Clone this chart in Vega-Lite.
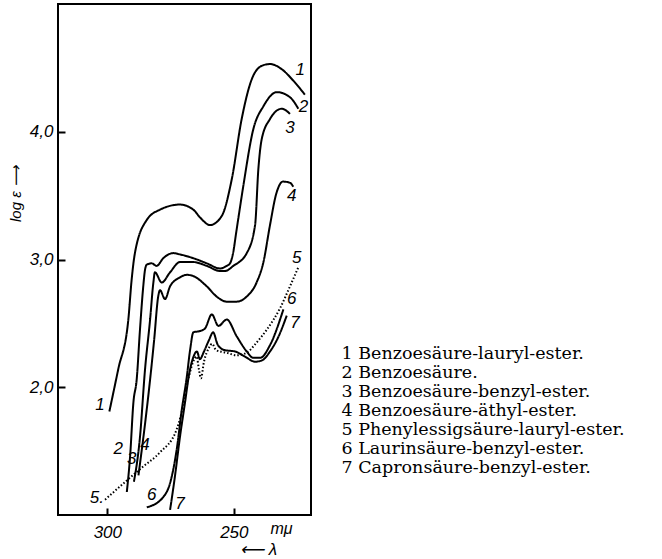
{
  "$schema": "https://vega.github.io/schema/vega-lite/v6.json",
  "width": 253,
  "height": 511,
  "autosize": {"type": "none"},
  "padding": {"left": 58, "top": 4, "right": 351, "bottom": 44},
  "background": "white",
  "title": {
    "text": "⟵ λ",
    "orient": "bottom",
    "anchor": "end",
    "frame": "group",
    "dx": -34,
    "offset": 2,
    "font": "Liberation Sans",
    "fontStyle": "italic",
    "fontWeight": "normal",
    "fontSize": 17,
    "color": "black",
    "baseline": "top"
  },
  "config": {
    "view": {"stroke": "black", "strokeWidth": 2},
    "axis": {
      "domain": false,
      "grid": false,
      "labelFont": "Liberation Sans",
      "labelFontStyle": "italic",
      "labelFontSize": 17,
      "labelColor": "black",
      "titleFont": "Liberation Sans",
      "titleFontStyle": "italic",
      "titleFontWeight": "normal",
      "titleColor": "black"
    }
  },
  "datasets": {
    "names": [
      {"c": 1, "name": "1 Benzoesäure-lauryl-ester."},
      {"c": 2, "name": "2 Benzoesäure."},
      {"c": 3, "name": "3 Benzoesäure-benzyl-ester."},
      {"c": 4, "name": "4 Benzoesäure-äthyl-ester."},
      {"c": 5, "name": "5 Phenylessigsäure-lauryl-ester."},
      {"c": 6, "name": "6 Laurinsäure-benzyl-ester."},
      {"c": 7, "name": "7 Capronsäure-benzyl-ester."}
    ],
    "curves": [
      {"c":1,"wl":299.2,"le":1.81},{"c":1,"wl":295.7,"le":2.14},{"c":1,"wl":291.7,"le":2.53},{"c":1,"wl":290.4,"le":2.84},{"c":1,"wl":289.1,"le":3.05},{"c":1,"wl":284.4,"le":3.31},{"c":1,"wl":279.2,"le":3.39},{"c":1,"wl":271.3,"le":3.43},{"c":1,"wl":266.0,"le":3.39},{"c":1,"wl":263.4,"le":3.33},{"c":1,"wl":259.4,"le":3.27},{"c":1,"wl":254.8,"le":3.34},{"c":1,"wl":250.8,"le":3.63},{"c":1,"wl":246.9,"le":4.10},{"c":1,"wl":242.3,"le":4.44},{"c":1,"wl":238.5,"le":4.52},{"c":1,"wl":235.7,"le":4.53},{"c":1,"wl":231.1,"le":4.49},{"c":1,"wl":226.5,"le":4.40},{"c":1,"wl":221.9,"le":4.29},
      {"c":2,"wl":292.3,"le":1.18},{"c":2,"wl":291.0,"le":1.46},{"c":2,"wl":289.7,"le":1.88},{"c":2,"wl":288.4,"le":2.06},{"c":2,"wl":287.1,"le":2.45},{"c":2,"wl":285.8,"le":2.79},{"c":2,"wl":285.1,"le":2.92},{"c":2,"wl":284.4,"le":2.96},{"c":2,"wl":282.5,"le":2.97},{"c":2,"wl":280.5,"le":2.95},{"c":2,"wl":277.9,"le":3.01},{"c":2,"wl":273.9,"le":3.05},{"c":2,"wl":271.3,"le":3.04},{"c":2,"wl":266.0,"le":3.01},{"c":2,"wl":260.7,"le":2.97},{"c":2,"wl":255.5,"le":2.93},{"c":2,"wl":252.8,"le":2.95},{"c":2,"wl":251.5,"le":2.97},{"c":2,"wl":250.3,"le":3.05},{"c":2,"wl":249.0,"le":3.22},{"c":2,"wl":246.3,"le":3.57},{"c":2,"wl":242.3,"le":4.02},{"c":2,"wl":238.3,"le":4.20},{"c":2,"wl":233.0,"le":4.31},{"c":2,"wl":227.8,"le":4.27},{"c":2,"wl":224.5,"le":4.18},
      {"c":3,"wl":289.5,"le":1.26},{"c":3,"wl":287.1,"le":1.61},{"c":3,"wl":285.1,"le":2.14},{"c":3,"wl":283.1,"le":2.53},{"c":3,"wl":281.8,"le":2.82},{"c":3,"wl":281.2,"le":2.90},{"c":3,"wl":278.5,"le":2.82},{"c":3,"wl":275.2,"le":2.90},{"c":3,"wl":271.3,"le":2.98},{"c":3,"wl":266.0,"le":2.98},{"c":3,"wl":260.7,"le":2.95},{"c":3,"wl":255.5,"le":2.91},{"c":3,"wl":253.5,"le":2.91},{"c":3,"wl":250.2,"le":2.95},{"c":3,"wl":244.9,"le":3.05},{"c":3,"wl":241.6,"le":3.27},{"c":3,"wl":240.3,"le":3.71},{"c":3,"wl":239.0,"le":3.94},{"c":3,"wl":235.7,"le":4.10},{"c":3,"wl":231.1,"le":4.18},{"c":3,"wl":227.8,"le":4.14},
      {"c":4,"wl":287.7,"le":1.31},{"c":4,"wl":284.7,"le":1.78},{"c":4,"wl":283.1,"le":2.06},{"c":4,"wl":281.5,"le":2.37},{"c":4,"wl":279.9,"le":2.71},{"c":4,"wl":279.2,"le":2.76},{"c":4,"wl":277.2,"le":2.69},{"c":4,"wl":275.2,"le":2.79},{"c":4,"wl":271.3,"le":2.86},{"c":4,"wl":268.6,"le":2.88},{"c":4,"wl":266.0,"le":2.87},{"c":4,"wl":260.7,"le":2.79},{"c":4,"wl":256.8,"le":2.71},{"c":4,"wl":252.8,"le":2.67},{"c":4,"wl":248.9,"le":2.67},{"c":4,"wl":244.9,"le":2.71},{"c":4,"wl":241.0,"le":2.82},{"c":4,"wl":238.3,"le":2.98},{"c":4,"wl":235.7,"le":3.27},{"c":4,"wl":233.3,"le":3.51},{"c":4,"wl":230.6,"le":3.61},{"c":4,"wl":227.8,"le":3.60},{"c":4,"wl":226.5,"le":3.57},
      {"c":5,"wl":300.9,"le":1.12},{"c":5,"wl":292.3,"le":1.27},{"c":5,"wl":285.8,"le":1.38},{"c":5,"wl":279.2,"le":1.49},{"c":5,"wl":272.6,"le":1.67},{"c":5,"wl":270.0,"le":1.86},{"c":5,"wl":268.5,"le":2.02},{"c":5,"wl":267.3,"le":2.12},{"c":5,"wl":266.1,"le":2.20},{"c":5,"wl":264.7,"le":2.24},{"c":5,"wl":263.8,"le":2.14},{"c":5,"wl":263.0,"le":2.07},{"c":5,"wl":261.8,"le":2.20},{"c":5,"wl":259.8,"le":2.31},{"c":5,"wl":258.6,"le":2.34},{"c":5,"wl":257.0,"le":2.29},{"c":5,"wl":252.8,"le":2.27},{"c":5,"wl":248.9,"le":2.25},{"c":5,"wl":244.9,"le":2.27},{"c":5,"wl":241.0,"le":2.35},{"c":5,"wl":237.0,"le":2.45},{"c":5,"wl":231.7,"le":2.62},{"c":5,"wl":227.8,"le":2.79},{"c":5,"wl":224.5,"le":2.94},
      {"c":6,"wl":284.4,"le":1.06},{"c":6,"wl":277.9,"le":1.14},{"c":6,"wl":275.2,"le":1.25},{"c":6,"wl":272.6,"le":1.51},{"c":6,"wl":270.6,"le":1.82},{"c":6,"wl":268.6,"le":2.08},{"c":6,"wl":267.3,"le":2.29},{"c":6,"wl":266.0,"le":2.43},{"c":6,"wl":263.4,"le":2.44},{"c":6,"wl":261.4,"le":2.46},{"c":6,"wl":258.7,"le":2.57},{"c":6,"wl":256.1,"le":2.48},{"c":6,"wl":252.8,"le":2.53},{"c":6,"wl":248.9,"le":2.40},{"c":6,"wl":244.9,"le":2.28},{"c":6,"wl":242.3,"le":2.23},{"c":6,"wl":239.6,"le":2.23},{"c":6,"wl":235.7,"le":2.33},{"c":6,"wl":230.4,"le":2.61},
      {"c":7,"wl":275.2,"le":1.04},{"c":7,"wl":273.3,"le":1.30},{"c":7,"wl":271.3,"le":1.61},{"c":7,"wl":269.3,"le":1.88},{"c":7,"wl":267.7,"le":2.10},{"c":7,"wl":266.1,"le":2.23},{"c":7,"wl":264.6,"le":2.28},{"c":7,"wl":263.4,"le":2.22},{"c":7,"wl":261.8,"le":2.28},{"c":7,"wl":259.8,"le":2.37},{"c":7,"wl":258.2,"le":2.43},{"c":7,"wl":256.3,"le":2.33},{"c":7,"wl":253.5,"le":2.29},{"c":7,"wl":249.5,"le":2.28},{"c":7,"wl":245.6,"le":2.24},{"c":7,"wl":241.6,"le":2.20},{"c":7,"wl":238.9,"le":2.21},{"c":7,"wl":235.7,"le":2.28},{"c":7,"wl":232.5,"le":2.39},{"c":7,"wl":229.1,"le":2.56}
    ],
    "labels": [
      {"t":"1","wl":223.8,"le":4.48},{"t":"1","wl":302.9,"le":1.86},
      {"t":"2","wl":222.5,"le":4.19},{"t":"2","wl":295.7,"le":1.52},
      {"t":"3","wl":227.8,"le":4.03},{"t":"3","wl":290.4,"le":1.44},
      {"t":"4","wl":227.1,"le":3.50},{"t":"4","wl":285.1,"le":1.55},
      {"t":"5","wl":225.1,"le":3.01},{"t":"5.","wl":304.1,"le":1.13},
      {"t":"6","wl":227.1,"le":2.69},{"t":"6","wl":282.5,"le":1.16},
      {"t":"7","wl":225.8,"le":2.50},{"t":"7","wl":271.3,"le":1.09}
    ]
  },
  "layer": [
    {
      "data": {"name": "curves"},
      "transform": [
        {"lookup": "c", "from": {"data": {"name": "names"}, "key": "c", "fields": ["name"]}}
      ],
      "mark": {"type": "line", "strokeWidth": 2, "interpolate": "monotone"},
      "encoding": {
        "x": {
          "field": "wl", "type": "quantitative",
          "scale": {"domain": [219.5, 319.5], "reverse": true, "nice": false, "zero": false},
          "axis": {
            "values": [300, 250],
            "ticks": true,
            "tickSize": 7,
            "tickWidth": 2,
            "tickColor": "black",
            "tickOpacity": 1,
            "offset": -7,
            "labelPadding": 9,
            "labelBaseline": "top",
            "title": "mμ",
            "titleFontSize": 16,
            "titleAlign": "right",
            "titleBaseline": "alphabetic",
            "titleAnchor": null,
            "titleX": 234,
            "titleY": 25
          }
        },
        "y": {
          "field": "le", "type": "quantitative",
          "scale": {"domain": [1, 5], "nice": false, "zero": false},
          "axis": {
            "values": [2, 3, 4],
            "ticks": true,
            "tickSize": 7,
            "tickWidth": 2,
            "tickColor": "black",
            "tickOpacity": 1,
            "offset": -7,
            "labelPadding": 5,
            "labelExpr": "replace(format(datum.value, '.1f'), '.', ',')",
            "title": "log ε ⟶",
            "titleFontSize": 15,
            "titleAngle": 270,
            "titleAlign": "center",
            "titleBaseline": "middle",
            "titleX": -50,
            "titleY": 189
          }
        },
        "color": {
          "field": "name", "type": "nominal",
          "scale": {"range": ["black"]},
          "legend": {
            "orient": "none",
            "legendX": 266,
            "legendY": 341,
            "title": null,
            "symbolSize": 0,
            "symbolStrokeWidth": 0,
            "symbolOpacity": 0,
            "labelOffset": 0,
            "labelFont": "DejaVu Serif",
            "labelFontSize": 17.5,
            "labelColor": "black",
            "labelLimit": 400,
            "rowPadding": 0
          }
        },
        "strokeDash": {
          "field": "name", "type": "nominal",
          "scale": {"range": [[1, 0], [1, 0], [1, 0], [1, 0], [1.5, 2], [1, 0], [1, 0]]},
          "legend": null
        }
      }
    },
    {
      "data": {"name": "labels"},
      "mark": {"type": "text", "font": "Liberation Sans", "fontStyle": "italic", "fontSize": 17, "color": "black", "align": "center", "baseline": "middle"},
      "encoding": {
        "x": {"field": "wl", "type": "quantitative"},
        "y": {"field": "le", "type": "quantitative"},
        "text": {"field": "t"}
      }
    }
  ]
}
